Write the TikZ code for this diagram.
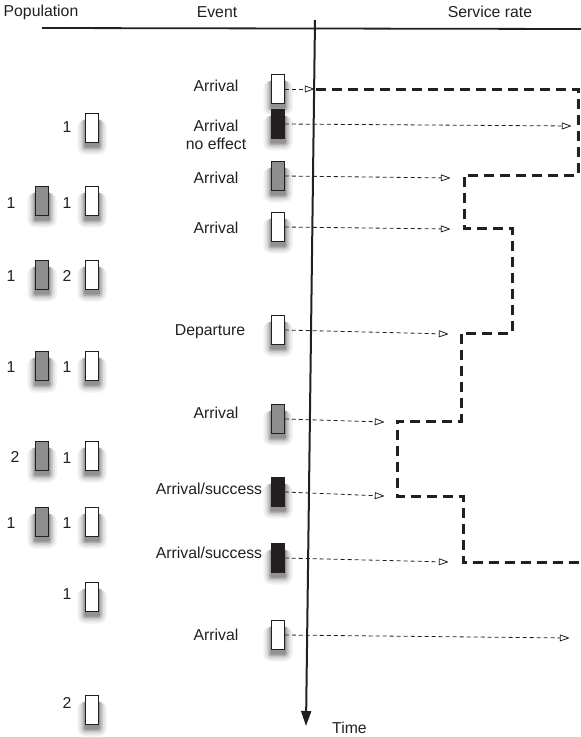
\documentclass[tikz,border=0pt]{standalone}
\usepackage{fontspec}
\setmainfont{Liberation Sans}
\usetikzlibrary{arrows.meta}

\definecolor{ink}{HTML}{231F20}
\definecolor{midgray}{HTML}{8E8E8E}

\pgfdeclarelayer{shade}
\pgfsetlayers{shade,main}

\tikzset{
  token/.style={draw=ink, line width=0.8pt, minimum width=13.5pt, minimum height=29pt,
    inner sep=0pt, outer sep=0pt},
  empty/.style={token, fill=white},
  waiting/.style={token, fill=midgray},
  blocked/.style={token, fill=ink},
  lbl/.style={font=\fontsize{15.8}{18.5}\selectfont, text=ink, inner sep=0pt, align=center},
  probe/.style={draw=ink, line width=0.8pt, dash pattern=on 4pt off 3pt,
    -{Triangle[open, length=10pt, width=7pt, line width=0.8pt, round]}},
  rate/.style={draw=ink, line width=3pt, dash pattern=on 10pt off 6pt},
  axis/.style={draw=ink, line width=2pt, -{Triangle[length=15pt, width=10pt]}}
}

\begin{document}
\begin{tikzpicture}[x=1pt, y=-1pt]
\useasboundingbox (0,0) rectangle (581,737);

% column headings and rule
\node[lbl] (hpop) at (41,12) {Population};
\node[lbl] (hevt) at (217,12) {Event};
\node[lbl] (hrate) at (490,12) {Service rate};
\coordinate (ruleL) at (42,28);
\coordinate (ruleR) at (581,29);
\draw[ink, line width=1.8pt] (ruleL) -- (ruleR);

% time axis
\coordinate (ttop) at (315,20);
\coordinate (tend) at (306,726);
\draw[axis] (ttop) -- (tend);
\node[lbl, anchor=west] (time) at (332,728) {Time};

% population snapshots
\node[empty] (p1w) at (92,128) {};
\node[lbl] (p1wn) at (67,127) {1};

\node[waiting] (p2g) at (42,201) {};
\node[lbl] (p2gn) at (11,203) {1};
\node[empty] (p2w) at (92,201) {};
\node[lbl] (p2wn) at (67,203) {1};

\node[waiting] (p3g) at (42,275) {};
\node[lbl] (p3gn) at (11,276) {1};
\node[empty] (p3w) at (92,275) {};
\node[lbl] (p3wn) at (67,276) {2};

\node[waiting] (p4g) at (42,366) {};
\node[lbl] (p4gn) at (11,367) {1};
\node[empty] (p4w) at (92,366) {};
\node[lbl] (p4wn) at (67,367) {1};

\node[waiting] (p5g) at (42,456) {};
\node[lbl] (p5gn) at (15,457) {2};
\node[empty] (p5w) at (92,456) {};
\node[lbl] (p5wn) at (67,458) {1};

\node[waiting] (p6g) at (42,522) {};
\node[lbl] (p6gn) at (11,523) {1};
\node[empty] (p6w) at (92,522) {};
\node[lbl] (p6wn) at (67,523) {1};

\node[empty] (p7w) at (92,597) {};
\node[lbl] (p7wn) at (67,594) {1};

\node[empty] (p8w) at (92,710) {};
\node[lbl] (p8wn) at (67,703) {2};

% events along the time axis
\node[empty]   (e1) at (278,89)  {};
\node[blocked] (e2) at (278,124) {};
\node[waiting] (e3) at (278,176) {};
\node[empty]   (e4) at (278,227) {};
\node[empty]   (e5) at (278,330) {};
\node[waiting] (e6) at (278,419) {};
\node[blocked] (e7) at (278,492) {};
\node[blocked] (e8) at (278,558) {};
\node[empty]   (e9) at (278,635) {};

% soft drop shadows under every token
\begin{pgfonlayer}{shade}
\foreach \n in {p1w,p2g,p2w,p3g,p3w,p4g,p4w,p5g,p5w,p6g,p6w,p7w,p8w,
                e1,e2,e3,e4,e5,e6,e7,e8,e9} {
  \foreach \r/\o in {8/0.05, 6/0.07, 4/0.1, 2.5/0.13, 1/0.17} {
    \fill[black, opacity=\o, rounded corners=\r pt]
      ([xshift=-\r pt, yshift=-4pt-\r pt]\n.south west)
      rectangle ([xshift=\r pt, yshift=-6pt]\n.north east);
  }
}
\end{pgfonlayer}

\node[lbl] (l1) at (216,86)  {Arrival};
\node[lbl] (l2) at (216,135) {Arrival\\no effect};
\node[lbl] (l3) at (216,178) {Arrival};
\node[lbl] (l4) at (216,228) {Arrival};
\node[lbl] (l5) at (210,332) {Departure};
\node[lbl] (l6) at (216,413) {Arrival};
\node[lbl] (l7) at (209,489) {Arrival/success};
\node[lbl] (l8) at (209,553) {Arrival/success};
\node[lbl] (l9) at (216,635) {Arrival};

% where each event reaches the service-rate curve
\coordinate (t1) at (314,89);
\coordinate (t2) at (571,126);
\coordinate (t3) at (450,178);
\coordinate (t4) at (450,229);
\coordinate (t5) at (448,334);
\coordinate (t6) at (384,422);
\coordinate (t7) at (384,496);
\coordinate (t8) at (448,562);
\coordinate (t9) at (569,638);

\draw[probe] (e1.east) -- (t1);
\draw[probe] (e2.east) -- (t2);
\draw[probe] (e3.east) -- (t3);
\draw[probe] (e4.east) -- (t4);
\draw[probe] (e5.east) -- (t5);
\draw[probe] (e6.east) -- (t6);
\draw[probe] (e7.east) -- (t7);
\draw[probe] (e8.east) -- (t8);
\draw[probe] (e9.east) -- (t9);

% service rate as a step curve
\coordinate (s0) at (316,89);
\coordinate (s1) at (578,89);
\coordinate (s2) at (578,175);
\coordinate (s3) at (464,175);
\coordinate (s4) at (464,228);
\coordinate (s5) at (512,228);
\coordinate (s6) at (512,333);
\coordinate (s7) at (461,333);
\coordinate (s8) at (461,421);
\coordinate (s9) at (397,421);
\coordinate (s10) at (397,496);
\coordinate (s11) at (463,496);
\coordinate (s12) at (463,562);
\coordinate (s13) at (581,562);
\draw[rate] (s0) -- (s1) -- (s2) -- (s3) -- (s4) -- (s5) -- (s6) -- (s7)
  -- (s8) -- (s9) -- (s10) -- (s11) -- (s12) -- (s13);
\end{tikzpicture}
\end{document}
